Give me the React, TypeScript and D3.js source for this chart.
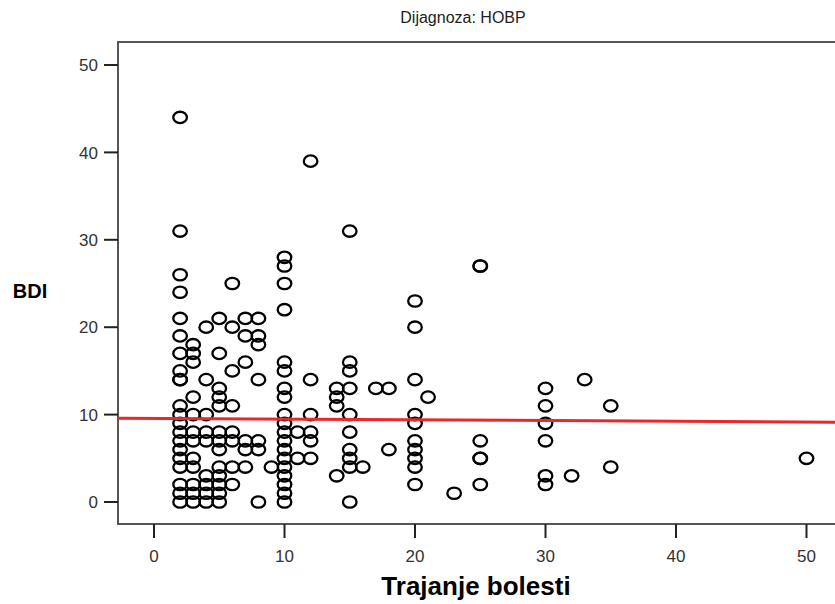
import React from "react";
import * as d3 from "d3";

const W = 835;
const H = 604;

// Points grouped by "Trajanje bolesti" (x) with BDI values (y)
const durations = [2, 3, 4, 5, 6, 7, 8, 9, 10, 11, 12, 14, 15, 16, 17, 18, 20, 21, 23, 25, 30, 32, 33, 35, 50];
const bdiByDuration: number[][] = [
  [0, 1, 2, 4, 5, 6, 7, 8, 9, 10, 11, 14, 14, 15, 17, 19, 21, 24, 26, 31, 44],
  [0, 1, 2, 4, 5, 7, 8, 10, 12, 16, 17, 18],
  [0, 1, 2, 3, 7, 8, 10, 14, 20],
  [0, 1, 2, 3, 4, 6, 7, 8, 11, 12, 13, 17, 21],
  [2, 4, 7, 8, 11, 15, 20, 25],
  [4, 6, 7, 16, 19, 21],
  [0, 6, 7, 14, 18, 19, 21],
  [4],
  [0, 1, 2, 3, 4, 5, 6, 7, 8, 9, 10, 12, 13, 15, 16, 22, 25, 27, 28],
  [5, 8],
  [5, 7, 8, 10, 14, 39],
  [3, 11, 12, 13],
  [0, 4, 5, 6, 8, 10, 13, 15, 16, 31],
  [4],
  [13],
  [6, 13],
  [2, 4, 5, 6, 7, 9, 10, 14, 20, 23],
  [12],
  [1],
  [2, 5, 5, 7, 27, 27],
  [2, 3, 7, 9, 11, 13],
  [3],
  [14],
  [4, 11],
  [5],
];

const xTicks = [0, 10, 20, 30, 40, 50];
const yTicks = [0, 10, 20, 30, 40, 50];

const fitIntercept = 9.57;
const fitSlope = -0.0084;

const title = "Dijagnoza: HOBP";
const xLabel = "Trajanje bolesti";
const yLabel = "BDI";

export default function App() {
  const x = d3.scaleLinear().domain([0, 50]).range([154, 806.5]);
  const y = d3.scaleLinear().domain([0, 50]).range([502, 65]);
  const left = 118;
  const top = 42;
  const bottom = 524;
  const right = 845;

  const points: { x: number; y: number }[] = [];
  durations.forEach((d, i) => bdiByDuration[i].forEach((v) => points.push({ x: d, y: v })));

  const xMin = x.invert(left);
  const xMax = x.invert(right);
  const line = d3
    .line<number>()
    .x((d) => x(d))
    .y((d) => y(fitIntercept + fitSlope * d));

  const font = "'Liberation Sans', Arial, sans-serif";

  return (
    <svg
      width={W}
      height={H}
      style={{ position: "absolute", left: 0, top: 0, background: "#fff" }}
    >
      <rect x={0} y={0} width={W} height={H} fill="#fff" />
      <text x={463} y={23} textAnchor="middle" fontFamily={font} fontSize={16} fill="#222">
        {title}
      </text>
      <defs>
        <clipPath id="plot">
          <rect x={left} y={top} width={right - left} height={bottom - top} />
        </clipPath>
      </defs>
      {/* frame */}
      <rect x={left} y={top} width={right - left} height={bottom - top} fill="none" stroke="#444" strokeWidth={1.8} />
      {/* y ticks */}
      {yTicks.map((t) => (
        <g key={"y" + t}>
          <line x1={left - 14} x2={left} y1={y(t)} y2={y(t)} stroke="#222" strokeWidth={2} />
          <text x={left - 20} y={y(t)} dy="0.36em" textAnchor="end" fontFamily={font} fontSize={17} fill="#333">
            {t}
          </text>
        </g>
      ))}
      {/* x ticks */}
      {xTicks.map((t) => (
        <g key={"x" + t}>
          <line x1={x(t)} x2={x(t)} y1={bottom} y2={bottom + 14} stroke="#222" strokeWidth={2} />
          <text x={x(t)} y={bottom + 38} textAnchor="middle" fontFamily={font} fontSize={17} fill="#333">
            {t}
          </text>
        </g>
      ))}
      <g clipPath="url(#plot)">
        {points.map((p, i) => (
          <ellipse
            key={i}
            cx={x(p.x)}
            cy={y(p.y)}
            rx={6.8}
            ry={5.7}
            fill="none"
            stroke="#000"
            strokeWidth={2.3}
          />
        ))}
        <path d={line([xMin, xMax]) || ""} stroke="#e8282c" strokeWidth={3} fill="none" />
      </g>
      <text x={30} y={291} dy="0.36em" textAnchor="middle" fontFamily={font} fontSize={20} fontWeight="bold" fill="#000">
        {yLabel}
      </text>
      <text x={476} y={595} textAnchor="middle" fontFamily={font} fontSize={26} fontWeight="bold" fill="#000">
        {xLabel}
      </text>
    </svg>
  );
}
